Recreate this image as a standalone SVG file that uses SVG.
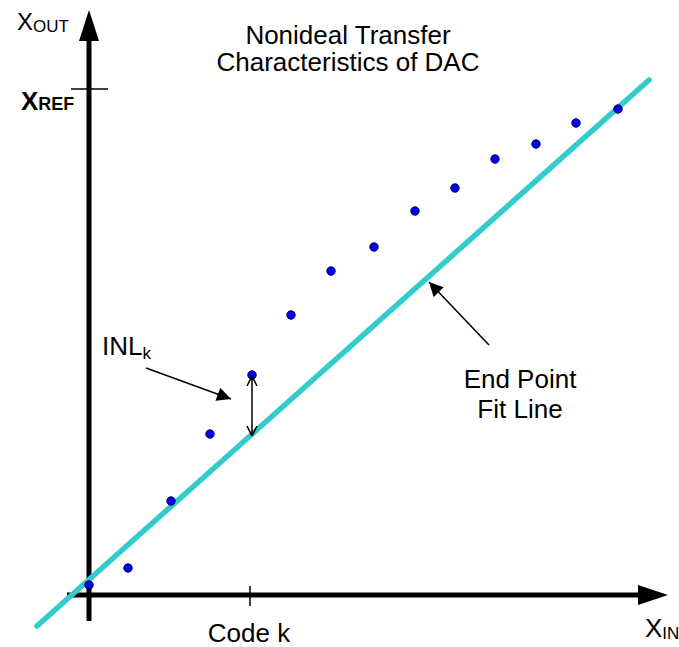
<svg xmlns="http://www.w3.org/2000/svg" width="679" height="647" viewBox="0 0 679 647">
<style>
text{font-family:"Liberation Sans",Arial,sans-serif;fill:#000}
.lbl{font-size:26px}
.sub{font-size:17px}
.axis{stroke:#000;stroke-width:5;fill:none}
.tick{stroke:#000;stroke-width:1.5}
.thin{stroke:#000;stroke-width:1.5;fill:none}
.dot{fill:#0000ff;stroke:#000033;stroke-width:1}
.fit{stroke:#33cccc;stroke-width:5.5;stroke-linecap:round}
</style>
<defs>
<marker id="fa" viewBox="0 0 10 10" refX="10" refY="5" markerWidth="20" markerHeight="14" markerUnits="userSpaceOnUse" orient="auto">
<path d="M0,0 L10,5 L0,10 Z" fill="#000"/>
</marker>
<marker id="oa" viewBox="0 0 10 10" refX="10" refY="5" markerWidth="10" markerHeight="14" markerUnits="userSpaceOnUse" orient="auto">
<path d="M0,0 L10,5 L0,10" fill="none" stroke="#000" stroke-width="1.5"/>
</marker>
</defs>
<g id="axes">
<line class="axis" x1="89" y1="621" x2="89" y2="40"/>
<path d="M79,41 L99,41 L89,10 Z" fill="#000"/>
<line class="axis" x1="67" y1="595" x2="640" y2="595"/>
<path d="M638,585 L638,605 L668,595 Z" fill="#000"/>
<line class="tick" x1="71" y1="89" x2="108" y2="89"/>
<line class="tick" x1="250" y1="586" x2="250" y2="606"/>
</g>
<g id="fit-line">
<line class="fit" x1="37" y1="626" x2="649" y2="80"/>
</g>
<g id="points">
<circle class="dot" cx="89" cy="585" r="4.2"/>
<circle class="dot" cx="128" cy="568" r="4.2"/>
<circle class="dot" cx="171" cy="501" r="4.2"/>
<circle class="dot" cx="210" cy="434" r="4.2"/>
<circle class="dot" cx="252" cy="375" r="4.2"/>
<circle class="dot" cx="291" cy="315" r="4.2"/>
<circle class="dot" cx="331" cy="271" r="4.2"/>
<circle class="dot" cx="374" cy="247" r="4.2"/>
<circle class="dot" cx="415" cy="211" r="4.2"/>
<circle class="dot" cx="455" cy="188" r="4.2"/>
<circle class="dot" cx="495" cy="159" r="4.2"/>
<circle class="dot" cx="536" cy="144" r="4.2"/>
<circle class="dot" cx="576" cy="123" r="4.2"/>
<circle class="dot" cx="618" cy="109" r="4.2"/>
</g>
<g id="connectors">
<line class="thin" x1="252" y1="405" x2="252" y2="376" marker-end="url(#oa)"/>
<line class="thin" x1="252" y1="405" x2="252" y2="436" marker-end="url(#oa)"/>
<line class="thin" x1="146" y1="368" x2="231" y2="399" marker-end="url(#fa)"/>
<line class="thin" x1="489" y1="345" x2="429" y2="282" marker-end="url(#fa)"/>
</g>
<g id="labels">
<text x="17" y="30" style="font-size:24px">X<tspan class="sub" dy="2">OUT</tspan></text>
<text x="21" y="110" style="font-size:26px;font-weight:bold">X<tspan style="font-size:18px">REF</tspan></text>
<text class="lbl" x="348" y="44" text-anchor="middle">Nonideal Transfer</text>
<text class="lbl" x="348" y="71" text-anchor="middle">Characteristics of DAC</text>
<text class="lbl" x="102" y="355">INL<tspan style="font-size:17px" dy="4">k</tspan></text>
<text class="lbl" x="520" y="388" text-anchor="middle">End Point</text>
<text class="lbl" x="520" y="418" text-anchor="middle">Fit Line</text>
<text class="lbl" x="249" y="642" text-anchor="middle">Code k</text>
<text x="645" y="637" style="font-size:26px">X<tspan class="sub" dy="2">IN</tspan></text>
</g>
</svg>
